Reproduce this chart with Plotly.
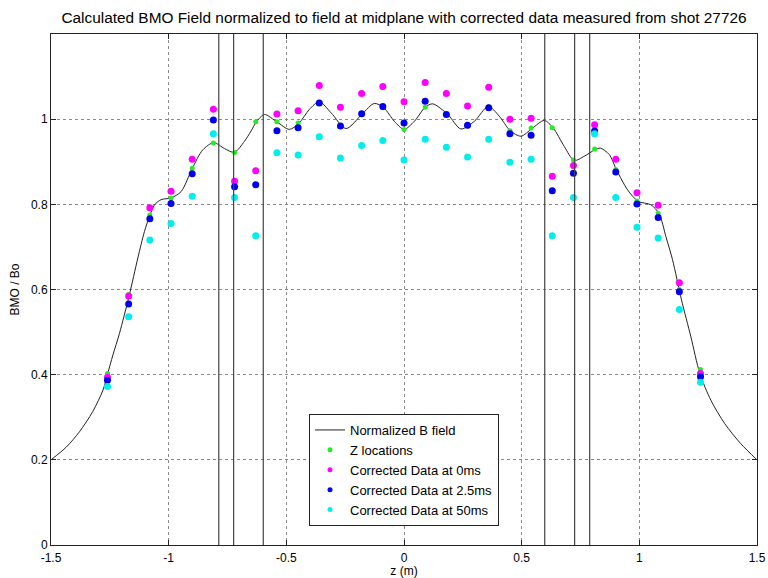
import plotly.graph_objects as go

# Field curve
curve_z = [-1.5, -1.435, -1.379, -1.323, -1.279, -1.26, -1.237, -1.209, -1.168, -1.131, -1.103,
           -1.08, -1.06, -1.032, -0.99, -0.947, -0.9, -0.855, -0.808, -0.763, -0.721, -0.678,
           -0.65, -0.628, -0.593, -0.539, -0.487, -0.447, -0.402, -0.36, -0.31, -0.246, -0.178,
           -0.126, -0.086, -0.041, 0.0, 0.044, 0.09, 0.122, 0.186, 0.242, 0.299, 0.358, 0.405,
           0.451, 0.497, 0.544, 0.596, 0.633, 0.681, 0.723, 0.766, 0.811, 0.834, 0.872, 0.903,
           0.95, 0.995, 1.049, 1.084, 1.113, 1.141, 1.179, 1.219, 1.257, 1.304, 1.363, 1.431, 1.5]
curve_b = [0.2, 0.230, 0.266, 0.313, 0.364, 0.401, 0.446, 0.497, 0.585, 0.674, 0.736,
           0.774, 0.799, 0.811, 0.815, 0.830, 0.884, 0.928, 0.945, 0.931, 0.922, 0.948,
           0.972, 0.993, 1.011, 0.993, 0.976, 0.990, 1.023, 1.041, 1.015, 0.978, 1.012,
           1.037, 1.027, 0.995, 0.976, 0.995, 1.028, 1.036, 1.011, 0.977, 0.995, 1.030, 1.007,
           0.973, 0.960, 0.978, 0.997, 0.980, 0.936, 0.903, 0.913, 0.928, 0.932, 0.917, 0.881,
           0.834, 0.807, 0.799, 0.778, 0.724, 0.670, 0.576, 0.489, 0.403, 0.340, 0.285, 0.238, 0.2]

# Probe locations
z_loc = [-1.26, -1.17, -1.08, -0.99, -0.9, -0.81, -0.72, -0.63, -0.54, -0.45, -0.36, -0.27, -0.18,
         -0.09, 0.0, 0.09, 0.18, 0.27, 0.36, 0.45, 0.54, 0.63, 0.72, 0.81, 0.9, 0.99, 1.08, 1.17, 1.26]
z_field = [0.403, 0.588, 0.775, 0.815, 0.885, 0.944, 0.922, 0.994, 0.994, 0.991, 1.038, 0.984, 1.012,
           1.027, 0.976, 1.028, 1.011, 0.984, 1.029, 0.973, 0.979, 0.980, 0.904, 0.930, 0.882, 0.808,
           0.779, 0.600, 0.412]
data_0ms = [0.394, 0.585, 0.792, 0.831, 0.906, 1.023, 0.854, 0.879, 1.012, 1.020, 1.079, 1.028, 1.060,
            1.077, 1.041, 1.086, 1.060, 1.031, 1.075, 1.000, 1.002, 0.866, 0.891, 0.987, 0.906, 0.827,
            0.798, 0.616, 0.403]
data_2p5ms = [0.387, 0.566, 0.766, 0.802, 0.872, 0.998, 0.841, 0.846, 0.973, 0.980, 1.038, 0.984, 1.013,
              1.030, 0.991, 1.042, 1.011, 0.986, 1.027, 0.966, 0.962, 0.832, 0.873, 0.972, 0.876, 0.801,
              0.769, 0.595, 0.395]
data_50ms = [0.372, 0.536, 0.716, 0.755, 0.819, 0.966, 0.816, 0.726, 0.921, 0.916, 0.959, 0.909, 0.938,
             0.950, 0.904, 0.953, 0.934, 0.911, 0.953, 0.899, 0.906, 0.726, 0.816, 0.966, 0.816, 0.746,
             0.721, 0.553, 0.382]

coil_edges = [-0.787, -0.724, -0.598, 0.598, 0.725, 0.789]

x_ticks = [-1.5, -1, -0.5, 0, 0.5, 1, 1.5]
x_tick_text = ["-1.5", "-1", "-0.5", "0", "0.5", "1", "1.5"]
y_ticks = [0, 0.2, 0.4, 0.6, 0.8, 1]
y_tick_text = ["0", "0.2", "0.4", "0.6", "0.8", "1"]

series = [
    ("Z locations", z_field, "#22ee22", 5, 5),
    ("Corrected Data at 0ms", data_0ms, "#ff00ff", 7, 5),
    ("Corrected Data at 2.5ms", data_2p5ms, "#0000ee", 7, 5),
    ("Corrected Data at 50ms", data_50ms, "#00eeee", 7, 5),
]

FONT = "Liberation Sans, Arial, sans-serif"

fig = go.Figure()
fig.add_trace(go.Scatter(x=curve_z, y=curve_b, mode="lines", name="Normalized B field",
                         line=dict(color="#222222", width=1, shape="spline", smoothing=0.8)))
for name, vals, col, sz, _ in series:
    fig.add_trace(go.Scatter(x=z_loc, y=vals, mode="markers", name=name, showlegend=False,
                             marker=dict(color=col, size=sz)))
# legend entries with small markers, like the reference
for name, vals, col, _, lsz in series:
    fig.add_trace(go.Scatter(x=[None], y=[None], mode="markers", name=name,
                             marker=dict(color=col, size=lsz)))

for xe in coil_edges:
    fig.add_shape(type="line", xref="x", yref="paper", x0=xe, x1=xe, y0=0, y1=1,
                  line=dict(color="#444444", width=1.2), layer="above")

axis_common = dict(showline=True, linecolor="#222222", linewidth=1, mirror="ticks",
                   ticks="inside", ticklen=5, tickcolor="#222222", automargin=False,
                   showgrid=True, gridcolor="#8a8a8a", griddash="dot", gridwidth=1,
                   zeroline=False, tickfont=dict(family=FONT, size=12, color="#000"))

fig.update_layout(
    width=768, height=578,
    margin=dict(l=51, r=11, t=34, b=33),
    paper_bgcolor="white", plot_bgcolor="white",
    title=dict(text="Calculated BMO Field normalized to field at midplane with corrected data measured from shot 27726",
               x=0.5 + (51 - 11) / 2 / 768, xanchor="center", y=1 - 18 / 578, yanchor="middle",
               font=dict(family=FONT, size=15.4, color="#000")),
    xaxis=dict(range=[-1.5, 1.5], tickvals=x_ticks, ticktext=x_tick_text, ticklabelstandoff=2,
               title=dict(text="z (m)", standoff=0,
                          font=dict(family=FONT, size=12, color="#000")),
               **axis_common),
    yaxis=dict(range=[0, 1.2], tickvals=y_ticks, ticktext=y_tick_text,
               title=dict(text="BMO / Bo", standoff=8,
                          font=dict(family=FONT, size=12, color="#000")),
               **axis_common),
    showlegend=True,
    legend=dict(x=(309 - 51) / 706, y=(545 - 414) / 511, xanchor="left", yanchor="top",
                bgcolor="white", bordercolor="#222222", borderwidth=1,
                font=dict(family=FONT, size=13, color="#000"),
                tracegroupgap=0),
)

fig.write_html("out.html")
